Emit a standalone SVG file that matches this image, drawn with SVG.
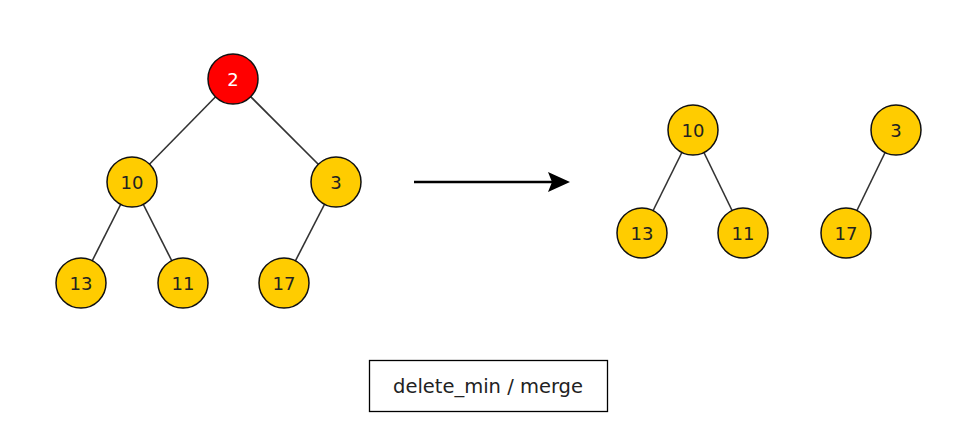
<svg xmlns="http://www.w3.org/2000/svg" width="980" height="428" viewBox="0 0 980 428">
<defs>
<style>
.n circle{fill:#ffcc00;stroke:#111;stroke-width:1.5}
.n text{font-family:"DejaVu Sans",sans-serif;font-size:18px;fill:#222;text-anchor:middle}
.r circle{fill:#ff0000}
.r text{fill:#fff}
.e line{stroke:#333;stroke-width:1.6}
</style>
</defs>
<rect width="980" height="428" fill="#fff"/>
<g id="connectors" class="e">
<line x1="233" y1="79" x2="132" y2="182"/>
<line x1="233" y1="79" x2="336" y2="182"/>
<line x1="132" y1="182" x2="81" y2="283"/>
<line x1="132" y1="182" x2="183" y2="283"/>
<line x1="336" y1="182" x2="284" y2="283"/>
<line x1="693" y1="130" x2="642" y2="233"/>
<line x1="693" y1="130" x2="743" y2="233"/>
<line x1="896" y1="130" x2="846" y2="233"/>
<line x1="414" y1="182" x2="552" y2="182" style="stroke:#000;stroke-width:2.5"/>
<path d="M548,172 L570,182 L548,192 L552,182 Z" fill="#000"/>
</g>
<g id="n2" class="n r"><circle cx="233" cy="79" r="25"/><text x="233" y="85.5">2</text></g>
<g id="n10" class="n"><circle cx="132" cy="182" r="25"/><text x="132" y="188.5">10</text></g>
<g id="n3" class="n"><circle cx="336" cy="182" r="25"/><text x="336" y="188.5">3</text></g>
<g id="n13" class="n"><circle cx="81" cy="283" r="25"/><text x="81" y="289.5">13</text></g>
<g id="n11" class="n"><circle cx="183" cy="283" r="25"/><text x="183" y="289.5">11</text></g>
<g id="n17" class="n"><circle cx="284" cy="283" r="25"/><text x="284" y="289.5">17</text></g>
<g id="m10" class="n"><circle cx="693" cy="130" r="25"/><text x="693" y="136.5">10</text></g>
<g id="m13" class="n"><circle cx="642" cy="233" r="25"/><text x="642" y="239.5">13</text></g>
<g id="m11" class="n"><circle cx="743" cy="233" r="25"/><text x="743" y="239.5">11</text></g>
<g id="m3" class="n"><circle cx="896" cy="130" r="25"/><text x="896" y="136.5">3</text></g>
<g id="m17" class="n"><circle cx="846" cy="233" r="25"/><text x="846" y="239.5">17</text></g>
<g id="label"><rect x="369.5" y="360.5" width="238" height="51" fill="#fff" stroke="#000" stroke-width="1.3"/><text x="488" y="393" font-family="DejaVu Sans, sans-serif" font-size="19.5" fill="#222" text-anchor="middle">delete_min / merge</text></g>
</svg>
